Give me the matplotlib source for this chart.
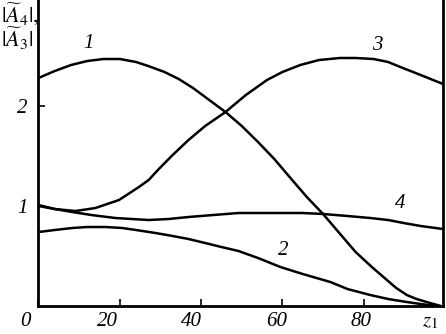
import numpy as np
import matplotlib.pyplot as plt
from matplotlib.transforms import ScaledTranslation

plt.rcParams['mathtext.fontset'] = 'stix'
plt.rcParams['font.family'] = 'Liberation Serif'

# curve 1
x1 = [0, 4, 8, 12, 16, 20, 24, 27, 31, 34.5, 38, 41, 46, 50, 54, 58, 62.4, 66, 70, 74, 78, 82, 85.7, 88, 90.6, 93, 96.3, 99]
y1 = [2.28, 2.35, 2.41, 2.45, 2.47, 2.47, 2.44, 2.40, 2.34, 2.27, 2.18, 2.09, 1.94, 1.80, 1.64, 1.47, 1.26, 1.09, 0.92, 0.73, 0.54, 0.39, 0.26, 0.18, 0.11, 0.07, 0.03, 0.0]
# curve 2
x2 = [0, 4, 8.3, 12, 16.5, 20.6, 24, 28.8, 33, 36.9, 41, 45, 49.2, 54, 59.5, 65, 71.8, 76, 81.6, 86, 90.6, 94, 98]
y2 = [0.74, 0.76, 0.78, 0.79, 0.79, 0.78, 0.76, 0.73, 0.70, 0.67, 0.63, 0.59, 0.55, 0.48, 0.39, 0.32, 0.24, 0.17, 0.11, 0.07, 0.04, 0.02, 0.0]
# curve 3
x3 = [0, 4, 9.1, 14, 19.8, 24.7, 27.1, 29.6, 33, 36.9, 41, 46, 51, 56.2, 60, 64.4, 69, 74.2, 78, 82.4, 86, 89, 94, 99.5]
y3 = [1.0, 0.97, 0.95, 0.98, 1.06, 1.19, 1.26, 1.37, 1.51, 1.66, 1.80, 1.94, 2.11, 2.26, 2.34, 2.41, 2.46, 2.48, 2.48, 2.47, 2.44, 2.39, 2.31, 2.22]
# curve 4
x4 = [0, 4, 8.3, 13, 18.9, 23, 27.1, 32, 36.9, 43, 49.2, 55, 60, 65, 70.1, 76, 81.6, 86, 89.8, 94, 99.5]
y4 = [1.01, 0.97, 0.94, 0.91, 0.88, 0.87, 0.86, 0.87, 0.89, 0.91, 0.93, 0.93, 0.93, 0.93, 0.92, 0.90, 0.88, 0.86, 0.83, 0.80, 0.77]

curves = [(x1, y1), (x2, y2), (x3, y3), (x4, y4)]
curve_names = ['1', '2', '3', '4']
name_pos = [(12.4, 2.63), (60.2, 0.56), (83.3, 2.61), (89.0, 1.03)]

xticks = [0, 20, 40, 60, 80]
yticks = [1, 2]

fig = plt.figure(figsize=(4.46, 3.34), dpi=100)
ax = fig.add_axes([0.0863, 0.0838, 0.9070, 0.9162])

for (x, y) in curves:
    ax.plot(x, y, color='black', lw=1.8, solid_capstyle='butt')

for name, (px, py) in zip(curve_names, name_pos):
    ax.text(px, py, name, fontsize=15, style='italic', ha='center', va='center')

ax.set_xlim(0, 99.5)
ax.set_ylim(0, 3.06)
ax.spines['top'].set_visible(False)
for s in ['left', 'right', 'bottom']:
    ax.spines[s].set_linewidth(2)

ax.set_xticks(xticks)
ax.set_xticklabels([str(v) for v in xticks], fontsize=15, style='italic')
ax.set_yticks(yticks)
ax.set_yticklabels([str(v) for v in yticks], fontsize=15, style='italic')
ax.tick_params(direction='in', length=5, width=1.2)
ax.tick_params(axis='x', pad=4)
ax.tick_params(axis='y', pad=8)

# tick labels in the original sit a little left of their ticks
x_shift = [-13, -12, -10, -6, -3]
for lbl, dx in zip(ax.get_xticklabels(), x_shift):
    lbl.set_transform(lbl.get_transform() + ScaledTranslation(dx / 100, 0, fig.dpi_scale_trans))

ax.text(0.968, -0.066, r'$z_1$', transform=ax.transAxes, fontsize=15, ha='center', va='baseline')
fig.text(0.002, 0.997, r'$|\widetilde{A}_4|,$' + '\n' + r'$|\widetilde{A}_3|$',
         fontsize=16, ha='left', va='top', linespacing=0.95)

fig.savefig('out.png', dpi=100)
